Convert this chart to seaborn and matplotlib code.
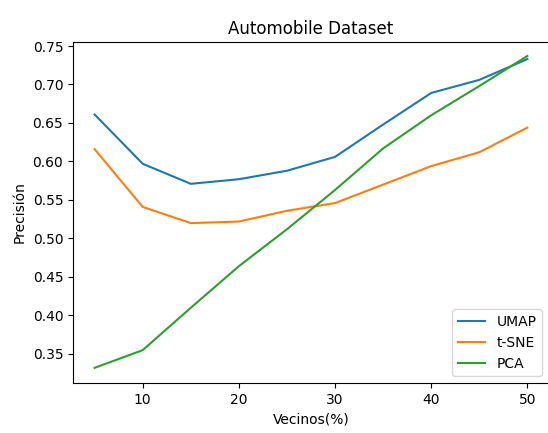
import matplotlib
matplotlib.use("Agg")
import matplotlib.pyplot as plt
import seaborn as sns
import pandas as pd

vecinos = [5, 10, 15, 20, 25, 30, 35, 40, 45, 50]
umap = [0.661, 0.597, 0.571, 0.577, 0.588, 0.606, 0.648, 0.689, 0.706, 0.733]
tsne = [0.616, 0.541, 0.520, 0.522, 0.536, 0.546, 0.570, 0.594, 0.612, 0.644]
pca = [0.332, 0.355, 0.410, 0.464, 0.512, 0.563, 0.617, 0.660, 0.698, 0.737]
series_names = ["UMAP", "t-SNE", "PCA"]

rows = []
for name, vals in zip(series_names, [umap, tsne, pca]):
    for x, v in zip(vecinos, vals):
        rows.append({"Vecinos(%)": x, "Precisión": v, "Método": name})
df = pd.DataFrame(rows)

plt.rcParams.update(matplotlib.rcParamsDefault)
plt.rcParams['font.family'] = ['DejaVu Sans']

W, H = 548, 433
fig = plt.figure(figsize=(W / 100, H / 100), dpi=100)
left, right, top, bottom = 73, 549, 42, 383
ax = fig.add_axes([left / W, 1 - bottom / H, (right - left) / W, (bottom - top) / H])
sns.lineplot(data=df, x="Vecinos(%)", y="Precisión", hue="Método",
             palette=["#1f77b4", "#ff7f0e", "#2ca02c"], ax=ax, linewidth=1.5)
ax.set_title("Automobile Dataset")
ax.set_xlabel("Vecinos(%)")
ax.set_ylabel("Precisión")
ax.set_xticks([10, 20, 30, 40, 50])
ax.set_yticks([0.35, 0.40, 0.45, 0.50, 0.55, 0.60, 0.65, 0.70, 0.75])
ax.set_ylim(0.3123, 0.7552)
ax.set_xlim(2.75, 52.25)
ax.legend(loc="lower right", title=None)
fig.savefig("out.png", dpi=100)
